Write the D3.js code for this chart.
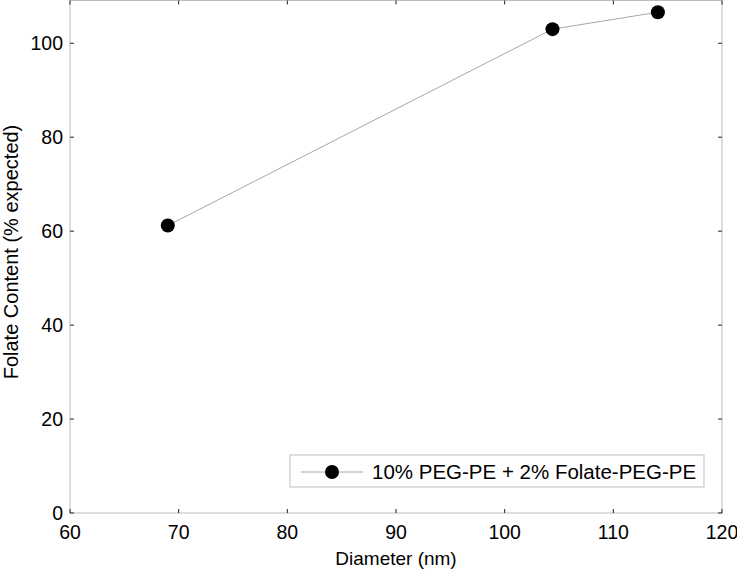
<!DOCTYPE html>
<html>
<head>
<meta charset="utf-8">
<script src="https://cdn.jsdelivr.net/npm/d3@7"></script>
<style>
  body { margin: 0; background: #fff; }
  svg { display: block; font-family: "Liberation Sans", Arial, sans-serif; }
</style>
</head>
<body>
<script>
var svgWidth = 737;
var svgHeight = 570;

// data
var diameter = [69.0, 104.4, 114.1];
var folate = [61.2, 103.0, 106.6];
var seriesName = "10% PEG-PE + 2% Folate-PEG-PE";
var xTicks = [60, 70, 80, 90, 100, 110, 120];
var yTicks = [0, 20, 40, 60, 80, 100];

var plotLeft = 70, plotRight = 722, plotTop = 0.5, plotBottom = 513;

var x = d3.scaleLinear().domain([60, 120]).range([plotLeft, plotRight]);
var y = d3.scaleLinear().domain([0, 109.1]).range([plotBottom, plotTop]);

var svg = d3.select("body")
    .append("svg")
    .attr("width", svgWidth)
    .attr("height", svgHeight);

// box
svg.append("rect")
    .attr("x", plotLeft)
    .attr("y", plotTop)
    .attr("width", plotRight - plotLeft)
    .attr("height", plotBottom - plotTop)
    .attr("fill", "none")
    .attr("stroke", "#bdbdbd")
    .attr("stroke-width", 1);

// ticks (inward, all four sides)
var tickLen = 4;
xTicks.forEach(function (t) {
    svg.append("line").attr("x1", x(t)).attr("x2", x(t))
        .attr("y1", plotBottom).attr("y2", plotBottom - tickLen)
        .attr("stroke", "#222");
    svg.append("line").attr("x1", x(t)).attr("x2", x(t))
        .attr("y1", plotTop).attr("y2", plotTop + tickLen)
        .attr("stroke", "#222");
});
yTicks.forEach(function (t) {
    svg.append("line").attr("x1", plotLeft).attr("x2", plotLeft + tickLen)
        .attr("y1", y(t)).attr("y2", y(t))
        .attr("stroke", "#222");
    svg.append("line").attr("x1", plotRight).attr("x2", plotRight - tickLen)
        .attr("y1", y(t)).attr("y2", y(t))
        .attr("stroke", "#222");
});

// tick labels
svg.selectAll("text.xt")
    .data(xTicks)
    .enter()
    .append("text")
    .attr("class", "xt")
    .attr("x", function (d) { return x(d); })
    .attr("y", 539)
    .attr("text-anchor", "middle")
    .attr("font-size", "19.5px")
    .attr("fill", "#000")
    .text(function (d) { return d; });

svg.selectAll("text.yt")
    .data(yTicks)
    .enter()
    .append("text")
    .attr("class", "yt")
    .attr("x", 63)
    .attr("y", function (d) { return y(d) + 7; })
    .attr("text-anchor", "end")
    .attr("font-size", "19.5px")
    .attr("fill", "#000")
    .text(function (d) { return d; });

// axis labels
svg.append("text")
    .attr("x", 396)
    .attr("y", 565)
    .attr("text-anchor", "middle")
    .attr("font-size", "19px")
    .text("Diameter (nm)");

svg.append("text")
    .attr("transform", "translate(17.5,252) rotate(-90)")
    .attr("text-anchor", "middle")
    .attr("font-size", "20px")
    .text("Folate Content (% expected)");

// series
var pts = diameter.map(function (d, i) { return [d, folate[i]]; });

svg.append("path")
    .datum(pts)
    .attr("fill", "none")
    .attr("stroke", "#a8a8a8")
    .attr("stroke-width", 1)
    .attr("d", d3.line()
        .x(function (d) { return x(d[0]); })
        .y(function (d) { return y(d[1]); }));

svg.selectAll("circle.pt")
    .data(pts)
    .enter()
    .append("circle")
    .attr("class", "pt")
    .attr("cx", function (d) { return x(d[0]); })
    .attr("cy", function (d) { return y(d[1]); })
    .attr("r", 7)
    .attr("fill", "#000");

// legend
var legend = svg.append("g");
legend.append("rect")
    .attr("x", 290)
    .attr("y", 455)
    .attr("width", 414)
    .attr("height", 32)
    .attr("fill", "#fff")
    .attr("stroke", "#bdbdbd");
legend.append("line")
    .attr("x1", 301).attr("x2", 363)
    .attr("y1", 472).attr("y2", 472)
    .attr("stroke", "#a8a8a8");
legend.append("circle")
    .attr("cx", 332).attr("cy", 472).attr("r", 7)
    .attr("fill", "#000");
legend.append("text")
    .attr("x", 372)
    .attr("y", 479)
    .attr("font-size", "20.5px")
    .text(seriesName);
</script>
</body>
</html>
